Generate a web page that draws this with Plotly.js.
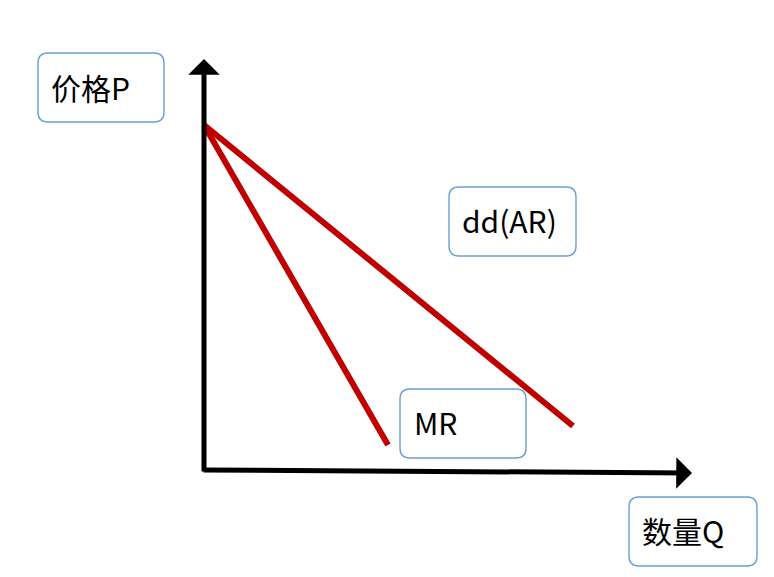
<!DOCTYPE html>
<html>
<head>
<meta charset="utf-8">
<script src="https://cdn.plot.ly/plotly-3.0.1.min.js"></script>
<style>html,body{margin:0;padding:0;background:#fff;}#chart{width:774px;height:577px;}</style>
</head>
<body>
<div id="chart"></div>
<script>
// Data (economic units: Q horizontal, P vertical)
const arQ = [0, 36.9];
const arP = [34.5, 4.4];
const mrQ = [0, 18.4];
const mrP = [34.5, 2.5];
const labels = ["价格P", "dd(AR)", "MR", "数量Q"];

// pixel helpers (layout only)
const OX = 204, OY = 470, S = 10;
const X = px => (px - OX) / S;
const Y = py => (OY - py) / S;

function rrect(x0, y0, x1, y1, r) {
  const p = (a, b) => X(a) + ',' + Y(b);
  return 'M' + p(x0 + r, y0) + ' L' + p(x1 - r, y0) + ' Q' + p(x1, y0) + ' ' + p(x1, y0 + r) +
    ' L' + p(x1, y1 - r) + ' Q' + p(x1, y1) + ' ' + p(x1 - r, y1) +
    ' L' + p(x0 + r, y1) + ' Q' + p(x0, y1) + ' ' + p(x0, y1 - r) +
    ' L' + p(x0, y0 + r) + ' Q' + p(x0, y0) + ' ' + p(x0 + r, y0) + ' Z';
}

const boxes = [
  [38, 53, 164, 122, 49, 87],
  [449, 187, 576, 256, 460, 220],
  [400, 389, 526, 458, 412, 422],
  [629, 497, 757, 566, 640, 530]
];

const shapes = boxes.map(b => ({
  type: 'path', xref: 'x', yref: 'y', path: rrect(b[0], b[1], b[2], b[3], 10),
  line: {color: '#6a9fd8', width: 1.4}, fillcolor: 'rgba(0,0,0,0)', layer: 'above'
}));

const annotations = boxes.map((b, i) => ({
  x: X(b[4]), y: Y(b[5]), xref: 'x', yref: 'y', text: labels[i], showarrow: false,
  xanchor: 'left', yanchor: 'middle',
  font: {family: 'Noto Sans CJK SC, Noto Sans, sans-serif', size: 30, color: '#000'}
}));

// axes with arrowheads
annotations.push({
  x: X(204), y: Y(59), ax: X(204), ay: Y(473), xref: 'x', yref: 'y', axref: 'x', ayref: 'y',
  showarrow: true, arrowhead: 1, arrowsize: 1.05, arrowwidth: 5, arrowcolor: '#000', text: ''
});
annotations.push({
  x: X(692), y: Y(473), ax: X(202), ay: Y(470), xref: 'x', yref: 'y', axref: 'x', ayref: 'y',
  showarrow: true, arrowhead: 1, arrowsize: 1.05, arrowwidth: 5, arrowcolor: '#000', text: ''
});

const traces = [
  {x: arQ, y: arP, mode: 'lines', line: {color: '#c00000', width: 6}, hoverinfo: 'skip'},
  {x: mrQ, y: mrP, mode: 'lines', line: {color: '#c00000', width: 6}, hoverinfo: 'skip'}
];

const layout = {
  width: 774, height: 577,
  margin: {l: 0, r: 0, t: 0, b: 0},
  paper_bgcolor: '#fff', plot_bgcolor: '#fff',
  showlegend: false,
  xaxis: {range: [X(0), X(774)], visible: false, fixedrange: true},
  yaxis: {range: [Y(577), Y(0)], visible: false, fixedrange: true},
  shapes: shapes,
  annotations: annotations
};

Plotly.newPlot('chart', traces, layout, {staticPlot: true});
</script>
</body>
</html>
